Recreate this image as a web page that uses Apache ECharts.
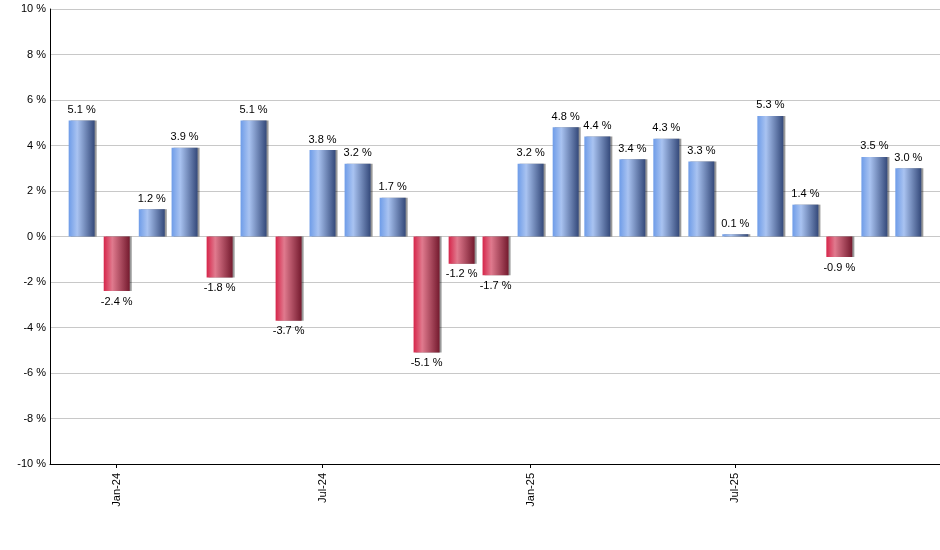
<!DOCTYPE html>
<html>
<head>
<meta charset="utf-8">
<script src="https://cdn.jsdelivr.net/npm/echarts@6/dist/echarts.min.js"></script>
<style>
html,body{margin:0;padding:0;background:#fff;}
#chart{width:940px;height:550px;}
</style>
</head>
<body>
<div id="chart"></div>
<script>
const months = ['2023-12','2024-01','2024-02','2024-03','2024-04','2024-05','2024-06','2024-07','2024-08','2024-09','2024-10','2024-11','2024-12',
  '2025-01','2025-02','2025-03','2025-04','2025-05','2025-06','2025-07','2025-08','2025-09','2025-10','2025-11','2025-12'];
const returns = [5.1,-2.4,1.2,3.9,-1.8,5.1,-3.7,3.8,3.2,1.7,-5.1,-1.2,-1.7,3.2,4.8,4.4,3.4,4.3,3.3,0.1,5.3,1.4,-0.9,3.5,3.0];
const tickMonths = ['2024-01','2024-07','2025-01','2025-07'];
const monthNames = ['Jan','Feb','Mar','Apr','May','Jun','Jul','Aug','Sep','Oct','Nov','Dec'];
const yMin = -10, yMax = 10, yStep = 2;

const DAY = 86400000;
function ts(s){ const p = s.split('-'); return Date.UTC(+p[0], +p[1]-1, 1); }

function grad(stops){
  return {type:'linear',x:0,y:0,x2:1,y2:0,global:false,
    colorStops:stops.map(s=>({offset:s[0],color:s[1]}))};
}
const blueStops = [[0,'#6e9ce8'],[0.33,'#a9c3f1'],[1,'#34497a']];
const redStops = [[0,'#d6254a'],[0.33,'#e07a8e'],[1,'#741a2e']];

const data = returns.map((v,i)=>({
  value:[ts(months[i]), v],
  itemStyle:{color: grad(v>=0 ? blueStops : redStops)},
  label:{position: v>=0 ? 'top' : 'bottom'}
}));

const FONT = 'Liberation Sans, Arial, sans-serif';
const chart = echarts.init(document.getElementById('chart'), null, {renderer:'canvas'});
chart.setOption({
  animation:false,
  backgroundColor:'#fff',
  textStyle:{fontFamily:FONT},
  grid:{left:50,right:0,top:9,bottom:86,containLabel:false},
  xAxis:{
    type:'value',
    min: ts(months[0]) - 28*DAY,
    max: ts(months[months.length-1]) + 28*DAY,
    axisLine:{show:true,onZero:false,lineStyle:{color:'#000',width:1}},
    axisTick:{show:true,length:4,customValues:tickMonths.map(ts),lineStyle:{color:'#000'}},
    axisLabel:{
      customValues:tickMonths.map(ts),
      rotate:90,margin:9,color:'#000',fontSize:11,fontFamily:FONT,
      formatter:v=>{const d=new Date(v);return monthNames[d.getUTCMonth()]+'-'+String(d.getUTCFullYear()).slice(2);}
    },
    splitLine:{show:false}
  },
  yAxis:{
    type:'value',min:yMin,max:yMax,interval:yStep,
    axisLine:{show:true,onZero:false,lineStyle:{color:'#000',width:1}},
    axisTick:{show:false},
    axisLabel:{color:'#000',fontSize:11,margin:4,fontFamily:FONT,formatter:v=>v+' %'},
    splitLine:{show:true,lineStyle:{color:'#c8c8c8',width:1}}
  },
  series:[{
    type:'bar',
    barWidth:26,
    data:data,
    itemStyle:{shadowColor:'rgba(0,0,0,0.4)',shadowOffsetX:2,shadowOffsetY:0,shadowBlur:0},
    label:{show:true,distance:5,color:'#000',fontSize:11,fontFamily:FONT,
      formatter:p=>p.value[1].toFixed(1)+' %'}
  }]
});
</script>
</body>
</html>
